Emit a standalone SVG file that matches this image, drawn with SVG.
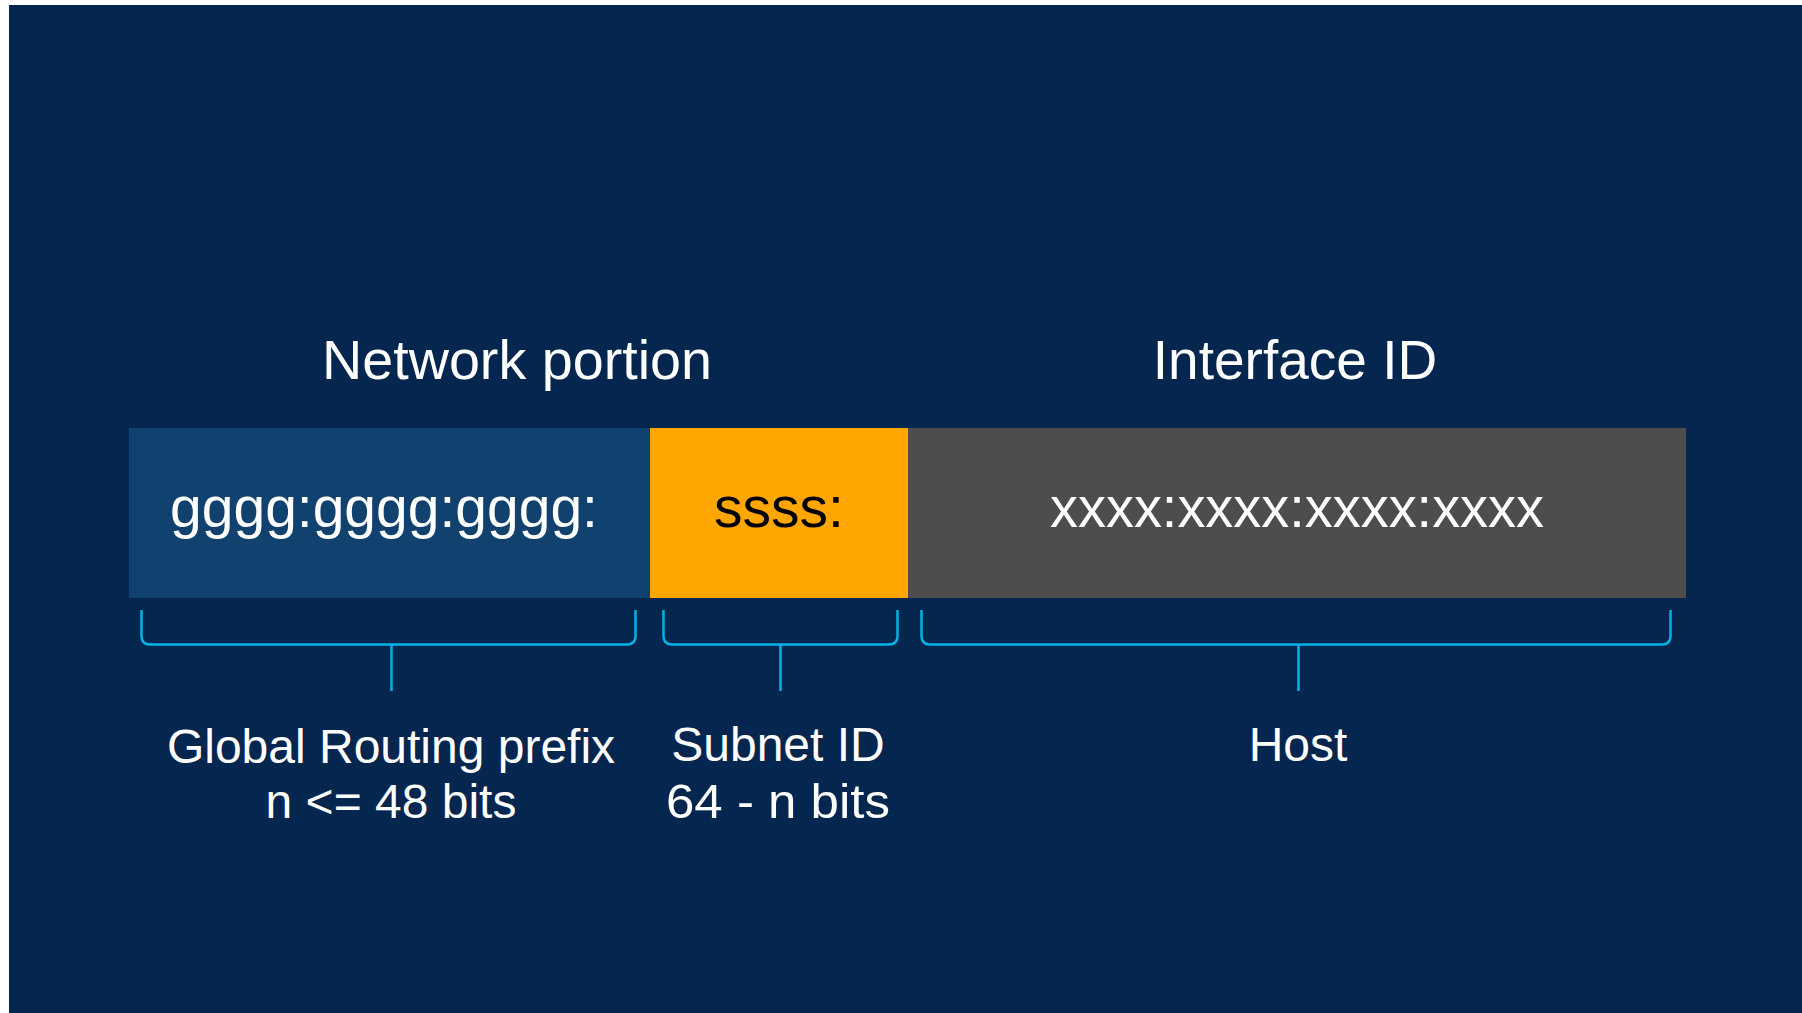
<svg xmlns="http://www.w3.org/2000/svg" width="1802" height="1013" viewBox="0 0 1802 1013">
  <style>
    .lbl { font-family: "Liberation Sans", Arial, sans-serif; fill: #ffffff; text-anchor: middle; }
    .head { font-size: 55px; }
    .seg { font-size: 57px; }
    .sub { font-size: 48px; }
    .brace { fill: none; stroke: #00b4e6; stroke-width: 2.5; stroke-linejoin: round; }
  </style>

  <!-- page and panel -->
  <rect x="0" y="0" width="1802" height="1013" fill="#ffffff"/>
  <rect x="9" y="5" width="1793" height="1008" fill="#05264f"/>

  <!-- section headings -->
  <text class="lbl head" x="517" y="379" textLength="390" lengthAdjust="spacingAndGlyphs">Network portion</text>
  <text class="lbl head" x="1295" y="379">Interface ID</text>

  <!-- address segments -->
  <g id="global-prefix">
    <rect x="129" y="428" width="521" height="170" fill="#11416f"/>
    <text class="lbl seg" x="384" y="527">gggg:gggg:gggg:</text>
  </g>
  <g id="subnet-id">
    <rect x="650" y="428" width="258" height="170" fill="#ffa600"/>
    <text class="lbl seg" x="779" y="527" style="fill:#000000">ssss:</text>
  </g>
  <g id="interface-id">
    <rect x="908" y="428" width="778" height="170" fill="#4d4d4d"/>
    <text class="lbl seg" x="1297" y="527" textLength="494" lengthAdjust="spacingAndGlyphs">xxxx:xxxx:xxxx:xxxx</text>
  </g>

  <!-- braces under each segment -->
  <g id="connectors">
    <path class="brace" d="M141.5 610 V636 Q141.5 644.5 150 644.5 H627 Q635.5 644.5 635.5 636 V610 M391.5 644.5 V691"/>
    <path class="brace" d="M663.5 610 V636 Q663.5 644.5 672 644.5 H889 Q897.5 644.5 897.5 636 V610 M780.5 644.5 V691"/>
    <path class="brace" d="M921.5 610 V636 Q921.5 644.5 930 644.5 H1662 Q1670.5 644.5 1670.5 636 V610 M1298.5 644.5 V691"/>
  </g>

  <!-- segment descriptions -->
  <g id="prefix-label">
    <text class="lbl sub" x="391" y="763">Global Routing prefix</text>
    <text class="lbl sub" x="391" y="818">n &lt;= 48 bits</text>
  </g>
  <g id="subnet-label">
    <text class="lbl sub" x="778" y="761">Subnet ID</text>
    <text class="lbl sub" x="778" y="818" textLength="224" lengthAdjust="spacingAndGlyphs">64 - n bits</text>
  </g>
  <g id="host-label">
    <text class="lbl sub" x="1298" y="761">Host</text>
  </g>
</svg>
